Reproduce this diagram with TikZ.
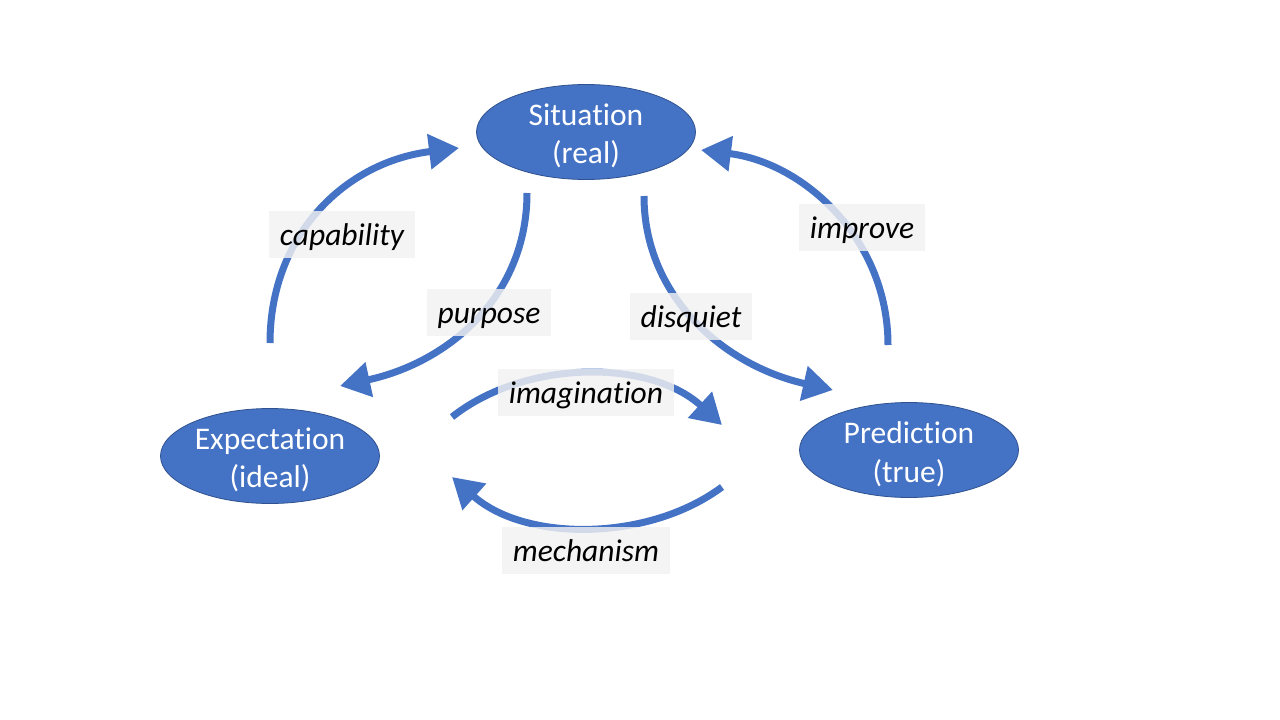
\documentclass[tikz,border=0pt]{standalone}
\usepackage{fontspec}
\setmainfont{Carlito}[Ligatures={NoCommon}]
\usetikzlibrary{shapes.geometric,arrows.meta}
\definecolor{blu}{HTML}{4472C4}
\definecolor{edgeblu}{HTML}{2F528F}
\definecolor{lbl}{HTML}{F2F2F2}
\begin{document}
\begin{tikzpicture}[x=1pt,y=-1pt,
  stateell/.style={ellipse, draw=edgeblu, line width=0.8pt, fill=blu,
    minimum width=219pt, minimum height=95pt, inner sep=0pt},
  stxt/.style={text=white, align=center, yshift=-4pt, inner sep=0pt,
    font=\fontsize{31.5}{38.5}\selectfont},
  flow/.style={draw=blu, line width=7pt, -{Triangle[length=30pt,width=34pt]}},
  lab/.style={fill=lbl, fill opacity=0.82, text opacity=1, inner xsep=11pt,
    minimum height=47pt, inner ysep=0pt, text height=28pt, text depth=5pt,
    font=\fontsize{31.5}{38.5}\selectfont\itshape}]
\useasboundingbox (0,0) rectangle (1280,720);
% nodes
\node[stateell, label={[stxt]center:{Situation\\(real)}}] (sit) at (586,132) {};
\node[stateell, label={[stxt]center:{Expectation\\(ideal)}}] (exp) at (270,456) {};
\node[stateell, label={[stxt]center:{Prediction\\(true)}}] (pre) at (909,450) {};
% arrow end points
\coordinate (capS) at (270,343);
\coordinate (capE) at (459,148);
\coordinate (purS) at (527,193);
\coordinate (purE) at (340,386);
\coordinate (disS) at (644,196);
\coordinate (disE) at (833,390);
\coordinate (impS) at (888,345);
\coordinate (impE) at (701,150);
\coordinate (imaS) at (452,417);
\coordinate (imaE) at (722,425);
\coordinate (mecS) at (722,487);
\coordinate (mecE) at (452,477);
% arrows
\draw[flow] (capS) .. controls (270,235) and (345,162) .. (capE);
\draw[flow] (purS) .. controls (527,295) and (450,362) .. (purE);
\draw[flow] (disS) .. controls (644,295) and (722,365) .. (disE);
\draw[flow] (impS) .. controls (888,240) and (805,163) .. (impE);
\draw[flow] (imaS) .. controls (525,359) and (650,359) .. (imaE);
\draw[flow] (mecS) .. controls (648,542) and (525,542) .. (mecE);
% labels
\node[lab] (lcap) at (342,234) {capability};
\node[lab] (lpur) at (489,312) {purpose};
\node[lab] (ldis) at (691,316) {disquiet};
\node[lab] (limp) at (862,227) {improve};
\node[lab] (lima) at (586,392) {imagination};
\node[lab] (lmec) at (586,550) {mechanism};
\end{tikzpicture}
\end{document}
